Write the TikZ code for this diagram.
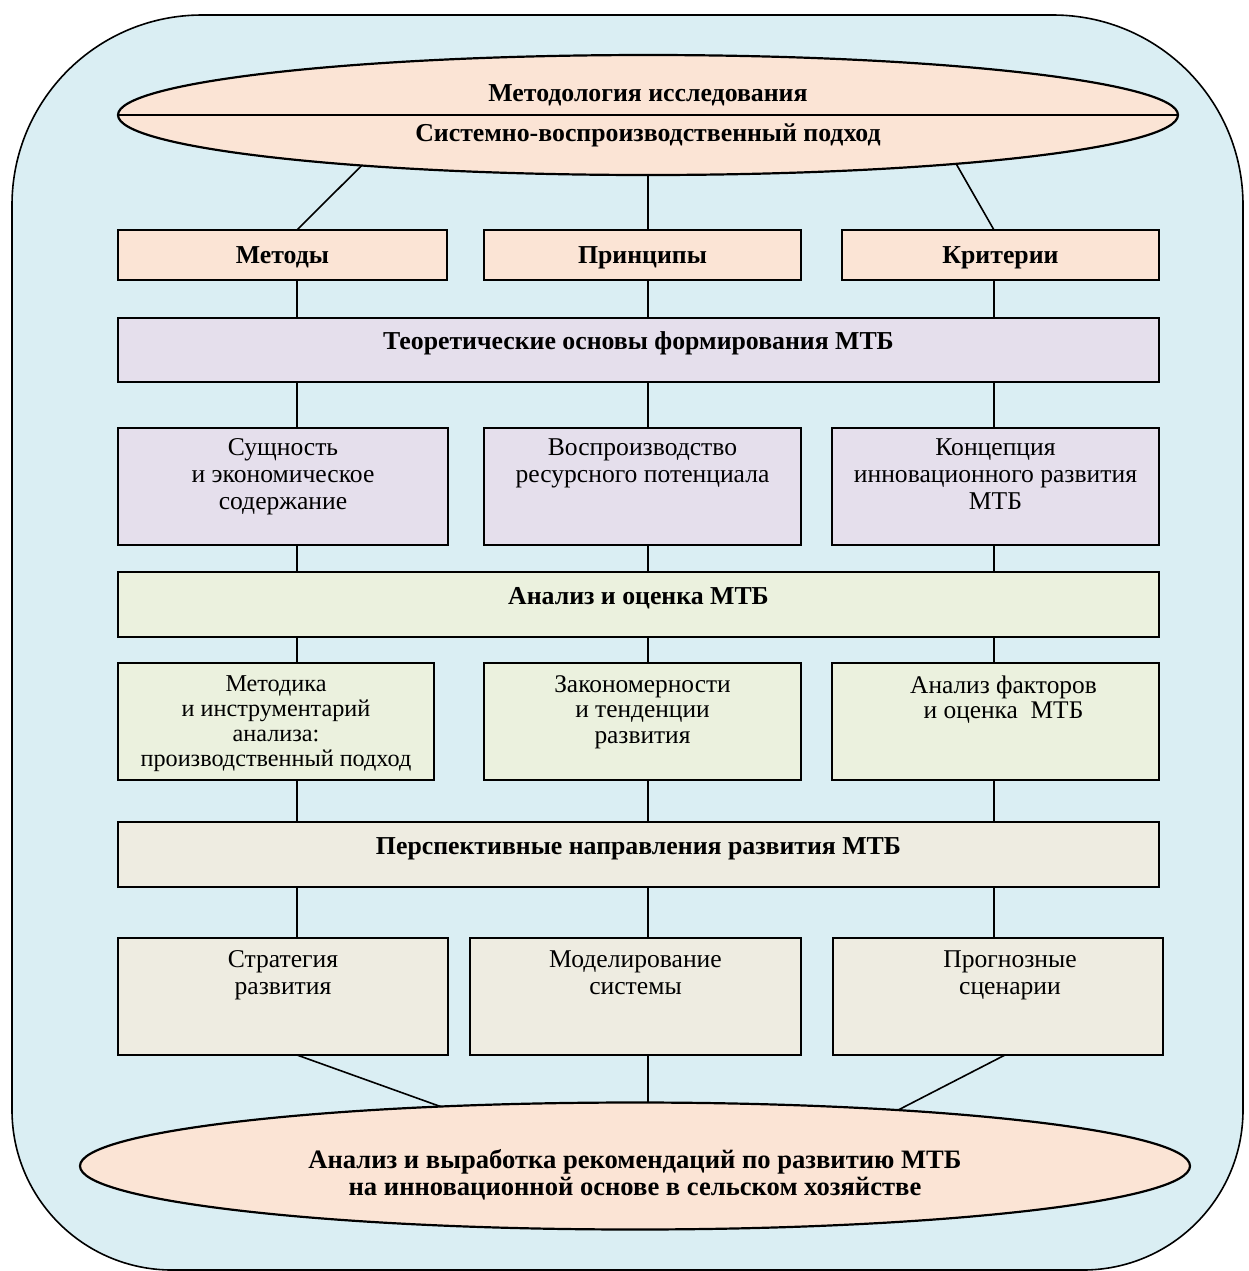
\documentclass[tikz,border=0pt]{standalone}
\usepackage{fontspec}
\setmainfont{Liberation Serif}
\usetikzlibrary{shapes.geometric,calc}
\definecolor{bgblue}{HTML}{DAEEF3}
\definecolor{peach}{HTML}{FBE4D5}
\definecolor{lav}{HTML}{E5DFEC}
\definecolor{lgreen}{HTML}{EBF1DE}
\definecolor{beige}{HTML}{EEECE1}
\begin{document}
\begin{tikzpicture}[x=0.5pt,y=-0.5pt,
  box/.style={draw, line width=1.1pt, inner sep=0pt, outer sep=0pt},
  oval/.style={draw, line width=1.1pt, ellipse, inner sep=0pt, outer sep=0pt, fill=peach},
  conn/.style={draw, line width=0.8pt},
  rtext/.style={font=\fontsize{12.8}{13.5}\selectfont, align=center, inner sep=0pt},
  rtextb/.style={font=\fontsize{12.7}{12.75}\selectfont, align=center, inner sep=0pt},
  btext/.style={font=\fontsize{12.9}{14}\selectfont\bfseries, align=center, inner sep=0pt},
  rowtext/.style={btext, text height=0.68em, text depth=0.22em},
  bigbtext/.style={font=\fontsize{13.3}{13.7}\selectfont\bfseries, align=center, inner sep=0pt},
  toplab/.style={rtext, anchor=north, yshift=#1},
  toplabb/.style={rtextb, anchor=north, yshift=#1}]
\useasboundingbox (0,0) rectangle (1249,1271);
% background
\path[draw, line width=0.8pt, fill=bgblue]
  (12,700) [rounded corners=95pt] -- (12,15) -- (1243,15) -- (1243,700)
  [rounded corners=80pt] -- (1243,1270) -- (12,1270) -- cycle;

% column coordinates
\coordinate (cA) at (297,0);
\coordinate (cB) at (648,0);
\coordinate (cC) at (994,0);

% top ellipse
\node[oval, minimum width=530pt, minimum height=60pt,
  label={[btext, yshift=10pt]center:Методология исследования},
  label={[btext, yshift=-10pt]center:Системно-воспроизводственный подход}] (top) at (648,115) {};
\draw[line width=1.1pt] (top.west) -- (top.east);

% row 1
\node[box, fill=peach, minimum width=164.5pt, minimum height=25pt] (m1) at (282.5,255) {};
\node[rowtext, yshift=-2pt] at (m1.center) {Методы};
\node[box, fill=peach, minimum width=158.5pt, minimum height=25pt] (m2) at (642.5,255) {};
\node[rowtext, yshift=-2pt] at (m2.center) {Принципы};
\node[box, fill=peach, minimum width=158.5pt, minimum height=25pt] (m3) at (1000.5,255) {};
\node[rowtext, yshift=-2pt] at (m3.center) {Критерии};

% band 1
\node[box, fill=lav, minimum width=520.5pt, minimum height=32pt,
  label={[rowtext, yshift=2.5pt]center:Теоретические основы формирования МТБ}] (b1) at (638.5,350) {};

% row 3
\node[box, fill=lav, minimum width=165pt, minimum height=58.5pt,
  label={[toplab=-5pt]north:Сущность\\и экономическое\\содержание}] (r3a) at (283,486.5) {};
\node[box, fill=lav, minimum width=158.5pt, minimum height=58.5pt,
  label={[toplab=-5pt]north:Воспроизводство\\ресурсного потенциала}] (r3b) at (642.5,486.5) {};
\node[box, fill=lav, minimum width=163.5pt, minimum height=58.5pt,
  label={[toplab=-5pt]north:Концепция\\инновационного развития\\МТБ}] (r3c) at (995.5,486.5) {};

% band 2
\node[box, fill=lgreen, minimum width=520.5pt, minimum height=32.5pt,
  label={[rowtext, yshift=2.5pt]center:Анализ и оценка МТБ}] (b2) at (638.5,604.5) {};

% row 4
\node[box, fill=lgreen, minimum width=158pt, minimum height=58.5pt,
  label={[toplabb=-6pt, font=\fontsize{12.1}{12.5}\selectfont]north:Методика\\и инструментарий\\анализа:\\производственный подход}] (r4a) at (276,721.5) {};
\node[box, fill=lgreen, minimum width=158.5pt, minimum height=58.5pt,
  label={[toplabb=-6pt]north:Закономерности\\и тенденции\\развития}] (r4b) at (642.5,721.5) {};
\node[box, fill=lgreen, minimum width=163.5pt, minimum height=58.5pt,
  label={[toplabb=-6pt, xshift=4pt]north:Анализ факторов\\и оценка\ \ МТБ}] (r4c) at (995.5,721.5) {};

% band 3
\node[box, fill=beige, minimum width=520.5pt, minimum height=32.5pt,
  label={[rowtext, yshift=2.5pt]center:Перспективные направления развития МТБ}] (b3) at (638.5,854.5) {};

% row 5
\node[box, fill=beige, minimum width=165pt, minimum height=58.5pt,
  label={[toplab=-6pt]north:Стратегия\\развития}] (r5a) at (283,996.5) {};
\node[box, fill=beige, minimum width=165.5pt, minimum height=58.5pt,
  label={[toplab=-6pt]north:Моделирование\\системы}] (r5b) at (635.5,996.5) {};
\node[box, fill=beige, minimum width=165pt, minimum height=58.5pt,
  label={[toplab=-6pt, xshift=6pt]north:Прогнозные\\сценарии}] (r5c) at (998,996.5) {};

% bottom ellipse
\node[oval, minimum width=555pt, minimum height=63.5pt,
  label={[bigbtext, yshift=-4.5pt]center:Анализ и выработка рекомендаций по развитию МТБ\\на инновационной основе в сельском хозяйстве}] (bot) at (635,1166) {};

% connectors top
\draw[conn] (top.190.5) -- ($(m1.north)+(14.5,0)$);
\draw[conn] (top.south) -- (top.south |- m2.north);
\draw[conn] (top.351.2) -- ($(m3.north)+(-6.5,0)$);

% vertical connectors
\foreach \c/\p/\q/\r/\s in {cA/m1/r3a/r4a/r5a, cB/m2/r3b/r4b/r5b, cC/m3/r3c/r4c/r5c}{
  \draw[conn] (\p.south -| \c) -- (b1.north -| \c);
  \draw[conn] (b1.south -| \c) -- (\q.north -| \c);
  \draw[conn] (\q.south -| \c) -- (b2.north -| \c);
  \draw[conn] (b2.south -| \c) -- (\r.north -| \c);
  \draw[conn] (\r.south -| \c) -- (b3.north -| \c);
  \draw[conn] (b3.south -| \c) -- (\s.north -| \c);
}

% connectors bottom
\draw[conn] (r5a.south -| cA) -- (bot.163.6);
\draw[conn] (r5b.south -| cB) -- (bot.north -| cB);
\draw[conn] ($(r5c.south)+(7,0)$) -- (bot.12.9);
\end{tikzpicture}
\end{document}
